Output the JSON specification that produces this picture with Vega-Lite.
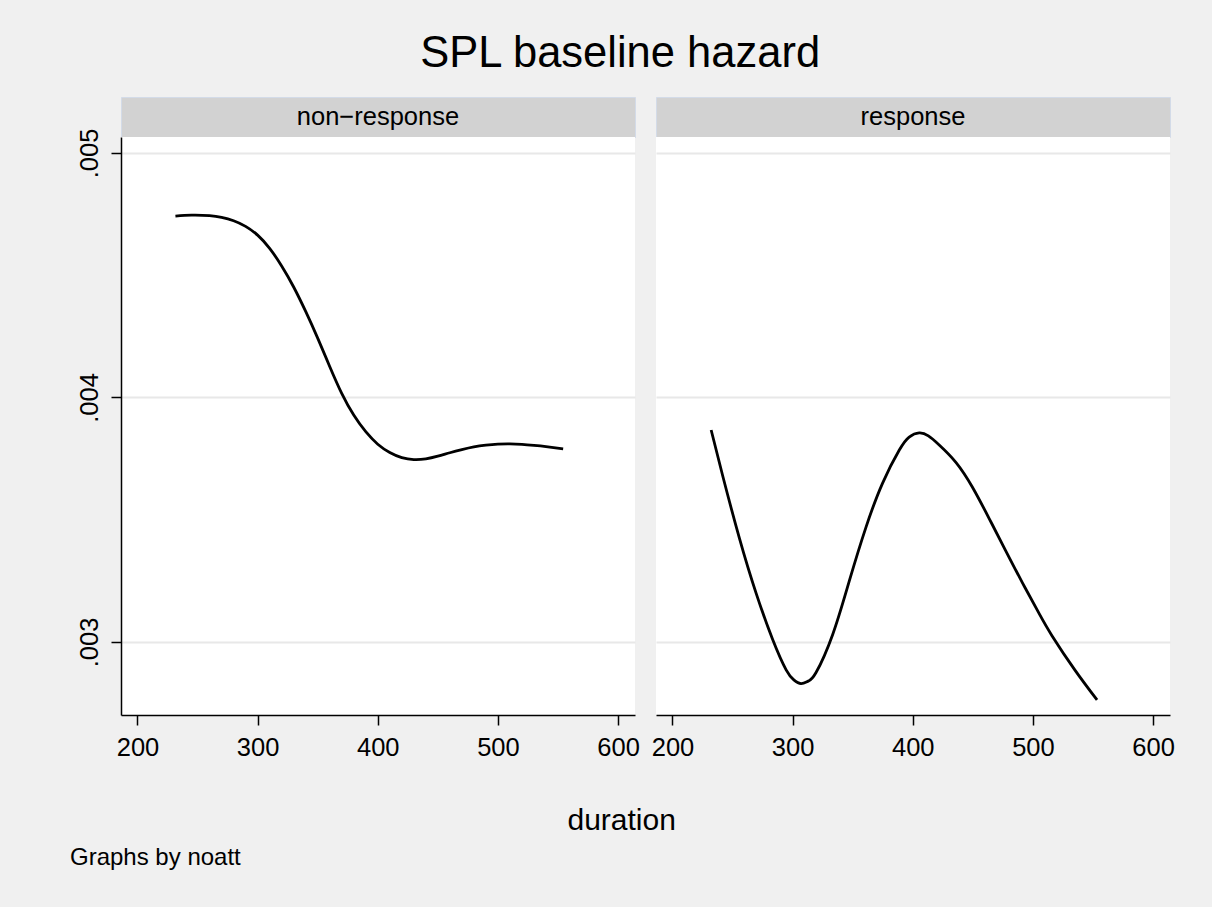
{
  "$schema": "https://vega.github.io/schema/vega-lite/v6.json",
  "background": "#f0f0f0",
  "padding": {"left": 70, "top": 32, "right": 37, "bottom": 37},
  "config": {
    "font": "Liberation Sans",
    "view": {"stroke": null},
    "concat": {"spacing": 0}
  },
  "title": {"text": "SPL baseline hazard", "fontSize": 43.5, "fontWeight": "normal", "color": "black", "anchor": "middle", "offset": 20, "dx": -2},
  "datasets": {
    "hazard": [
      {"group": "non−response", "duration": 231.6, "hazard": 0.004742},
      {"group": "non−response", "duration": 245, "hazard": 0.004746},
      {"group": "non−response", "duration": 260, "hazard": 0.004744},
      {"group": "non−response", "duration": 270, "hazard": 0.004737},
      {"group": "non−response", "duration": 280, "hazard": 0.004723},
      {"group": "non−response", "duration": 290, "hazard": 0.004700},
      {"group": "non−response", "duration": 300, "hazard": 0.004664},
      {"group": "non−response", "duration": 310, "hazard": 0.004610},
      {"group": "non−response", "duration": 320, "hazard": 0.004538},
      {"group": "non−response", "duration": 330, "hazard": 0.004452},
      {"group": "non−response", "duration": 340, "hazard": 0.004352},
      {"group": "non−response", "duration": 350, "hazard": 0.004243},
      {"group": "non−response", "duration": 360, "hazard": 0.004127},
      {"group": "non−response", "duration": 370, "hazard": 0.004017},
      {"group": "non−response", "duration": 380, "hazard": 0.003928},
      {"group": "non−response", "duration": 390, "hazard": 0.003860},
      {"group": "non−response", "duration": 400, "hazard": 0.003809},
      {"group": "non−response", "duration": 410, "hazard": 0.003775},
      {"group": "non−response", "duration": 420, "hazard": 0.003754},
      {"group": "non−response", "duration": 430, "hazard": 0.003746},
      {"group": "non−response", "duration": 440, "hazard": 0.003749},
      {"group": "non−response", "duration": 450, "hazard": 0.003760},
      {"group": "non−response", "duration": 460, "hazard": 0.003774},
      {"group": "non−response", "duration": 470, "hazard": 0.003787},
      {"group": "non−response", "duration": 480, "hazard": 0.003798},
      {"group": "non−response", "duration": 490, "hazard": 0.003805},
      {"group": "non−response", "duration": 500, "hazard": 0.003809},
      {"group": "non−response", "duration": 510, "hazard": 0.003810},
      {"group": "non−response", "duration": 520, "hazard": 0.003808},
      {"group": "non−response", "duration": 530, "hazard": 0.003804},
      {"group": "non−response", "duration": 540, "hazard": 0.003799},
      {"group": "non−response", "duration": 554.3, "hazard": 0.003790},
      {"group": "response", "duration": 232.2, "hazard": 0.003867},
      {"group": "response", "duration": 241.8, "hazard": 0.003680},
      {"group": "response", "duration": 255.7, "hazard": 0.003425},
      {"group": "response", "duration": 269.6, "hazard": 0.003200},
      {"group": "response", "duration": 283.4, "hazard": 0.003010},
      {"group": "response", "duration": 294.6, "hazard": 0.002886},
      {"group": "response", "duration": 301, "hazard": 0.002845},
      {"group": "response", "duration": 307.0, "hazard": 0.002830},
      {"group": "response", "duration": 313, "hazard": 0.002840},
      {"group": "response", "duration": 319.5, "hazard": 0.002875},
      {"group": "response", "duration": 333.3, "hazard": 0.003030},
      {"group": "response", "duration": 347.2, "hazard": 0.003250},
      {"group": "response", "duration": 361.1, "hazard": 0.003470},
      {"group": "response", "duration": 374.9, "hazard": 0.003650},
      {"group": "response", "duration": 388.8, "hazard": 0.003785},
      {"group": "response", "duration": 397, "hazard": 0.003838},
      {"group": "response", "duration": 405.4, "hazard": 0.003855},
      {"group": "response", "duration": 413, "hazard": 0.003843},
      {"group": "response", "duration": 422.0, "hazard": 0.003806},
      {"group": "response", "duration": 435.9, "hazard": 0.003735},
      {"group": "response", "duration": 449.7, "hazard": 0.003633},
      {"group": "response", "duration": 463.6, "hazard": 0.003505},
      {"group": "response", "duration": 477.5, "hazard": 0.003372},
      {"group": "response", "duration": 491.3, "hazard": 0.003242},
      {"group": "response", "duration": 505, "hazard": 0.003118},
      {"group": "response", "duration": 516.0, "hazard": 0.003025},
      {"group": "response", "duration": 535.0, "hazard": 0.002885},
      {"group": "response", "duration": 553.4, "hazard": 0.002763}
    ]
  },
  "vconcat": [
    {
      "title": {"text": "Graphs by noatt", "orient": "bottom", "anchor": "start", "fontSize": 24, "fontWeight": "normal", "color": "black", "offset": 10, "dx": -7},
      "vconcat": [
        {
          "title": {"text": "duration", "orient": "bottom", "anchor": "middle", "fontSize": 30, "fontWeight": "normal", "color": "black", "offset": 45, "dx": -4},
          "spacing": 11,
          "hconcat": [
            {
              "spacing": 0,
              "bounds": "flush",
              "vconcat": [
                {
                  "width": 514,
                  "height": 40,
                  "view": {"fill": "#d2d2d2", "stroke": "#d3dbe8", "strokeWidth": 1},
                  "data": {"values": [{"label": "non−response"}]},
                  "mark": {"type": "text", "fontSize": 25.5, "color": "black", "baseline": "middle"},
                  "encoding": {"text": {"field": "label"}}
                },
                {
                  "width": 514,
                  "height": 578,
                  "view": {"fill": "white", "stroke": null},
                  "data": {"name": "hazard"},
                  "transform": [{"filter": "datum.group == 'non−response'"}],
                  "mark": {"type": "line", "color": "black", "strokeWidth": 2.8, "interpolate": "natural"},
                  "encoding": {
                    "x": {"field": "duration", "type": "quantitative",
                      "scale": {"domain": [186.3, 614.1], "nice": false, "zero": false},
                      "axis": {"values": [200, 300, 400, 500, 600], "title": null, "grid": false, "domainColor": "black", "domainWidth": 1.5, "tickColor": "black", "tickWidth": 1.5, "tickSize": 10, "labelFontSize": 25.5, "labelColor": "black", "labelPadding": 10}},
                    "y": {"field": "hazard", "type": "quantitative",
                      "scale": {"domain": [0.0027014, 0.0050654], "nice": false, "zero": false},
                      "axis": {"values": [0.003, 0.004, 0.005], "title": null, "grid": true, "gridColor": "#e8e8e8", "gridWidth": 2, "domainColor": "black", "domainWidth": 1.5, "tickColor": "black", "tickWidth": 1.5, "tickSize": 10, "labelFontSize": 25.5, "labelColor": "black", "labelAngle": 270, "labelAlign": "center", "labelBaseline": "alphabetic", "labelPadding": 14, "labelExpr": "substring(format(datum.value, '.3f'), 1)"}}
                  }
                }
              ]
            },
            {
              "spacing": 0,
              "bounds": "flush",
              "vconcat": [
                {
                  "width": 514,
                  "height": 40,
                  "view": {"fill": "#d2d2d2", "stroke": "#d3dbe8", "strokeWidth": 1},
                  "data": {"values": [{"label": "response"}]},
                  "mark": {"type": "text", "fontSize": 25.5, "color": "black", "baseline": "middle"},
                  "encoding": {"text": {"field": "label"}}
                },
                {
                  "width": 514,
                  "height": 578,
                  "view": {"fill": "white", "stroke": null},
                  "data": {"name": "hazard"},
                  "transform": [{"filter": "datum.group == 'response'"}],
                  "mark": {"type": "line", "color": "black", "strokeWidth": 2.8, "interpolate": "natural"},
                  "encoding": {
                    "x": {"field": "duration", "type": "quantitative",
                      "scale": {"domain": [186.3, 614.1], "nice": false, "zero": false},
                      "axis": {"values": [200, 300, 400, 500, 600], "title": null, "grid": false, "domainColor": "black", "domainWidth": 1.5, "tickColor": "black", "tickWidth": 1.5, "tickSize": 10, "labelFontSize": 25.5, "labelColor": "black", "labelPadding": 10}},
                    "y": {"field": "hazard", "type": "quantitative",
                      "scale": {"domain": [0.0027014, 0.0050654], "nice": false, "zero": false},
                      "axis": {"values": [0.003, 0.004, 0.005], "title": null, "grid": true, "gridColor": "#e8e8e8", "gridWidth": 2, "domain": false, "ticks": false, "labels": false}}
                  }
                }
              ]
            }
          ]
        }
      ]
    }
  ]
}
